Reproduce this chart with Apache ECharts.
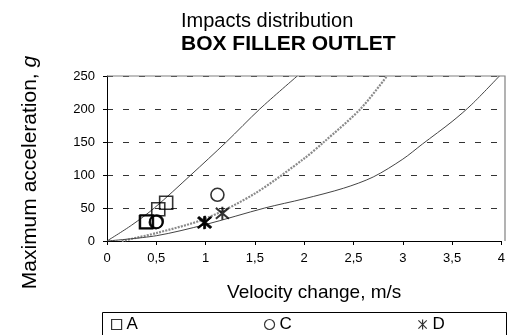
<!DOCTYPE html>
<html>
<head>
<meta charset="utf-8">
<script src="https://cdn.jsdelivr.net/npm/echarts@6/dist/echarts.min.js"></script>
<style>
  html, body { margin: 0; padding: 0; background: #fff; }
  #chart { width: 508px; height: 335px; }
</style>
</head>
<body>
<div id="chart"></div>
<script>
// Axis ticks
const xTicks = [0, 0.5, 1, 1.5, 2, 2.5, 3, 3.5, 4];
const yTicks = [0, 50, 100, 150, 200, 250];

// Measured impacts [velocity change m/s, max acceleration g]
const seriesA = [[0.40, 29], [0.405, 29.5], [0.395, 28.5], [0.52, 48], [0.60, 58]];
const seriesC = [[0.50, 29], [0.505, 29.5], [0.495, 28.5], [1.12, 70]];
const seriesD = [[0.99, 28], [0.995, 28.5], [0.985, 27.5], [1.17, 42]];

// Damage boundary curves [velocity change, acceleration]
const curveUpper = [[0, 0], [0.25, 24], [0.48, 50], [0.85, 100], [1.21, 150], [1.55, 200], [1.93, 250]];
const curveMiddle = [[0.15, 0], [0.5, 12], [1.0, 34], [1.5, 72], [2.0, 125], [2.2, 150], [2.57, 200], [2.84, 250]];
const curveLower = [[0, 0], [0.5, 8], [1.0, 25], [1.6, 50], [2.0, 64], [2.4, 80], [2.7, 97], [3.0, 124], [3.2, 147], [3.5, 181], [3.7, 207], [3.98, 250]];

const FONT = "'Liberation Sans', Arial, sans-serif";
const starPath = 'path://M0,0L10,10M10,0L0,10M5,-1L5,11';

const chart = echarts.init(document.getElementById('chart'), null, { renderer: 'canvas' });

const markerSeries = (name, data, symbol, size, bw) => ({
  name: name,
  type: 'scatter',
  data: data,
  symbol: symbol,
  symbolSize: size,
  z: 5,
  itemStyle: { color: 'rgba(0,0,0,0)', borderColor: '#000', borderWidth: bw }
});

const curveSeries = (data, lineStyle) => ({
  type: 'line',
  data: data,
  smooth: 0.3,
  showSymbol: false,
  silent: true,
  lineStyle: lineStyle,
  z: 3
});

chart.setOption({
  animation: false,
  backgroundColor: '#fff',
  title: {
    text: 'Impacts distribution',
    subtext: 'BOX FILLER OUTLET',
    left: 176,
    top: 6,
    itemGap: 3,
    textStyle: { fontFamily: FONT, fontSize: 20, fontWeight: 'normal', color: '#000' },
    subtextStyle: { fontFamily: FONT, fontSize: 21, fontWeight: 'bold', color: '#000' }
  },
  legend: {
    data: [
      { name: 'A', icon: 'rect' },
      { name: 'C', icon: 'circle' },
      { name: 'D', icon: starPath }
    ],
    left: 102,
    top: 312,
    padding: [4, 10, 8, 9],
    itemWidth: 10,
    itemHeight: 10,
    itemGap: 126,
    textStyle: { fontFamily: FONT, fontSize: 17, color: '#000' },
    itemStyle: { color: 'rgba(0,0,0,0)', borderColor: '#000', borderWidth: 1.2 }
  },
  grid: { left: 107, right: 3, top: 76, bottom: 94 },
  xAxis: {
    type: 'value',
    min: xTicks[0],
    max: xTicks[xTicks.length - 1],
    interval: 0.5,
    name: 'Velocity change, m/s',
    nameLocation: 'middle',
    nameGap: 42,
    nameTextStyle: { fontFamily: FONT, fontSize: 19, color: '#000', padding: [0, 0, 0, 20] },
    axisLine: { show: true, lineStyle: { color: '#000', width: 1 } },
    axisTick: { show: true, length: 4, lineStyle: { color: '#000' } },
    axisLabel: {
      fontFamily: FONT, fontSize: 13, color: '#000', margin: 11,
      formatter: v => String(v).replace('.', ',')
    },
    splitLine: { show: false }
  },
  yAxis: {
    type: 'value',
    min: yTicks[0],
    max: yTicks[yTicks.length - 1],
    interval: 50,
    name: '{n|Maximum acceleration, }{i|g}',
    nameLocation: 'middle',
    nameGap: 66,
    nameTextStyle: {
      fontFamily: FONT, fontSize: 21, color: '#000', padding: [0, 28, 0, 0],
      rich: {
        n: { fontFamily: FONT, fontSize: 21, color: '#000' },
        i: { fontFamily: FONT, fontSize: 21, color: '#000', fontStyle: 'italic' }
      }
    },
    axisLine: { show: true, lineStyle: { color: '#000', width: 1 } },
    axisTick: { show: true, inside: false, length: 4, lineStyle: { color: '#000' } },
    axisLabel: { fontFamily: FONT, fontSize: 13, color: '#000', margin: 12 },
    splitLine: { show: true, lineStyle: { color: '#333', type: [6, 10], width: 1 } }
  },
  graphic: [
    // Plot frame: top and right edges
    {
      type: 'polyline',
      shape: { points: [[107, 76], [505, 76], [505, 241]] },
      style: { stroke: '#808080', lineWidth: 1.2, fill: null },
      z: 2
    },
    // Legend frame
    {
      type: 'rect',
      shape: { x: 102.5, y: 312.5, width: 404, height: 30 },
      style: { stroke: '#000', lineWidth: 1, fill: null },
      z: 2
    }
  ],
  series: [
    curveSeries(curveUpper, { color: '#444', width: 1 }),
    curveSeries(curveMiddle, { color: '#8a8a8a', width: 2.2, type: [2, 1.2] }),
    curveSeries(curveLower, { color: '#444', width: 1 }),
    markerSeries('A', seriesA, 'rect', 13, 1.6),
    markerSeries('C', seriesC, 'circle', 13, 1.6),
    markerSeries('D', seriesD, starPath, 13, 2)
  ]
});
</script>
</body>
</html>
